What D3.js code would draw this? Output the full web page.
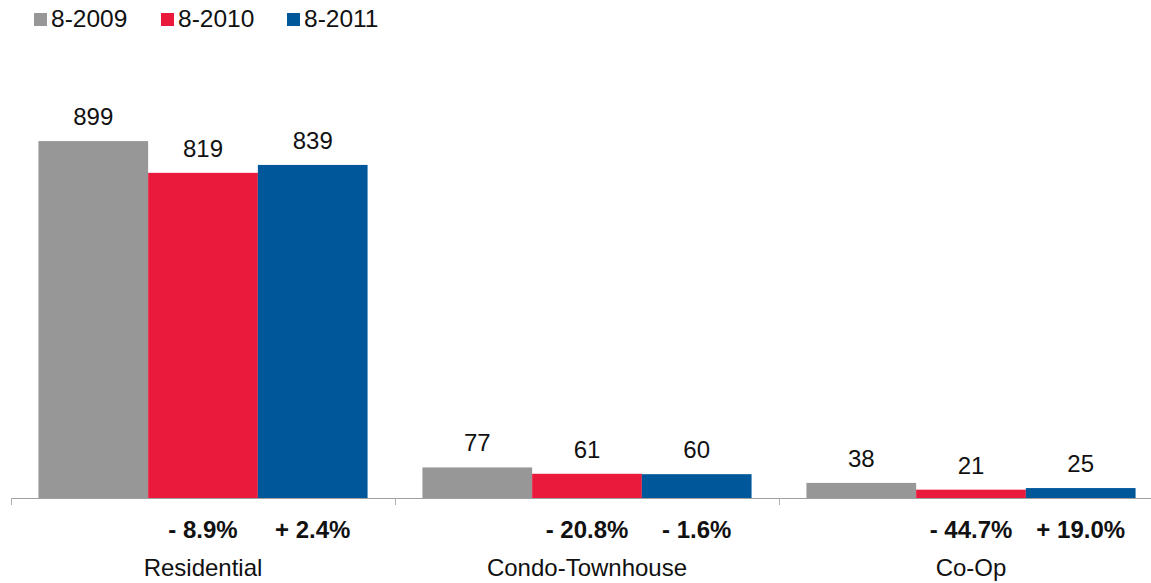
<!DOCTYPE html>
<html>
<head>
<meta charset="utf-8">
<script src="https://cdn.jsdelivr.net/npm/d3@7"></script>
<style>
  body { margin: 0; background: #fff; }
  svg { display: block; font-family: "Liberation Sans", Arial, Helvetica, sans-serif; }
</style>
</head>
<body>
<svg id="chart" width="1151" height="583"></svg>
<script>
// values
let categories = ["Residential", "Condo-Townhouse", "Co-Op"];
let seriesNames = ["8-2009", "8-2010", "8-2011"];
let seriesColors = ["#979797", "#e91a3b", "#00579a"];
let values2009 = [899, 77, 38];
let values2010 = [819, 61, 21];
let values2011 = [839, 60, 25];
let changes2010 = ["- 8.9%", "- 20.8%", "- 44.7%"];
let changes2011 = ["+ 2.4%", "- 1.6%", "+ 19.0%"];

let allValues = [values2009, values2010, values2011];
let allChanges = [null, changes2010, changes2011];

let rows = categories.map((cat, i) => ({
  cat: cat,
  items: seriesNames.map((s, j) => ({
    series: s,
    value: allValues[j][i],
    change: allChanges[j] ? allChanges[j][i] : null
  }))
}));

let svg = d3.select("#chart");
let baseY = 498;

let x0 = d3.scaleBand()
  .domain(categories)
  .range([11, 1163])
  .padding(0);

let x1 = d3.scaleBand()
  .domain(seriesNames)
  .range([0, x0.bandwidth()])
  .paddingInner(0)
  .paddingOuter(0.25);

let y = d3.scaleLinear()
  .domain([0, 1000])
  .range([baseY, baseY - 397]);

let color = d3.scaleOrdinal().domain(seriesNames).range(seriesColors);

// legend
let legend = svg.append("g").attr("class", "legend");
let legendX = [34, 161, 287];
seriesNames.forEach((s, i) => {
  let g = legend.append("g").attr("transform", `translate(${legendX[i]},0)`);
  g.append("rect")
    .attr("x", 0).attr("y", 13)
    .attr("width", 13).attr("height", 13)
    .attr("fill", color(s));
  g.append("text")
    .attr("x", 17).attr("y", 27)
    .attr("font-size", 24.5)
    .attr("fill", "#111")
    .text(s);
});

// bars
let groups = svg.selectAll(".group")
  .data(rows)
  .join("g")
  .attr("class", "group")
  .attr("transform", d => `translate(${x0(d.cat)},0)`);

groups.selectAll("rect")
  .data(d => d.items)
  .join("rect")
  .attr("x", d => x1(d.series))
  .attr("y", d => y(d.value))
  .attr("width", x1.bandwidth())
  .attr("height", d => y(0) - y(d.value))
  .attr("fill", d => color(d.series));

groups.selectAll(".val")
  .data(d => d.items)
  .join("text")
  .attr("class", "val")
  .attr("x", d => x1(d.series) + x1.bandwidth() / 2)
  .attr("y", d => y(d.value) - 16)
  .attr("text-anchor", "middle")
  .attr("font-size", 24)
  .attr("fill", "#111")
  .text(d => d.value);

groups.selectAll(".chg")
  .data(d => d.items.filter(it => it.change))
  .join("text")
  .attr("class", "chg")
  .attr("x", d => x1(d.series) + x1.bandwidth() / 2)
  .attr("y", 538)
  .attr("text-anchor", "middle")
  .attr("font-size", 24)
  .attr("font-weight", "bold")
  .attr("fill", "#111")
  .text(d => d.change);

// category axis
let axis = svg.append("g")
  .attr("transform", `translate(0,${baseY})`);

axis.append("line")
  .attr("x1", x0.range()[0]).attr("x2", x0.range()[1])
  .attr("y1", 0.5).attr("y2", 0.5)
  .attr("stroke", "#a0a0a0")
  .attr("stroke-width", 1.2);

let boundaries = categories.map(c => x0(c)).concat([x0.range()[1]]);
axis.selectAll(".tick")
  .data(boundaries)
  .join("line")
  .attr("class", "tick")
  .attr("x1", d => d + 0.5).attr("x2", d => d + 0.5)
  .attr("y1", 0).attr("y2", 7)
  .attr("stroke", "#b0b0b0");

axis.selectAll(".cat")
  .data(categories)
  .join("text")
  .attr("class", "cat")
  .attr("x", d => x0(d) + x0.bandwidth() / 2)
  .attr("y", 78)
  .attr("text-anchor", "middle")
  .attr("font-size", 24)
  .attr("fill", "#111")
  .text(d => d);
</script>
</body>
</html>
